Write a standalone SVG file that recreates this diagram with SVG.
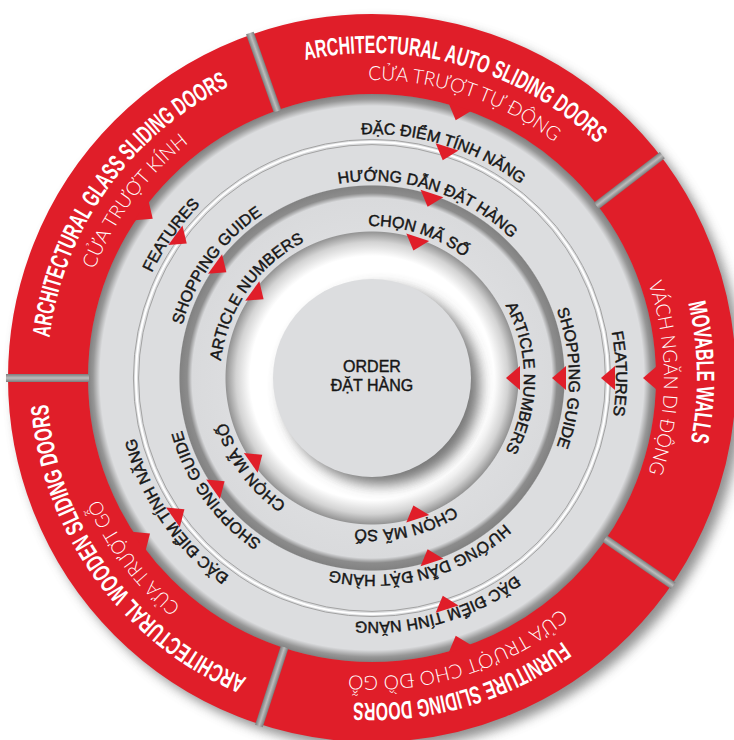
<svg xmlns="http://www.w3.org/2000/svg" xmlns:xlink="http://www.w3.org/1999/xlink" width="734" height="740" viewBox="0 0 734 740">
  <defs>
    <style>
      .title { font-family: "Liberation Sans", Arial, sans-serif; font-weight: bold; font-size: 25px; fill: #ffffff; }
      .sub { font-family: Lato, "Open Sans", "Liberation Sans", sans-serif; font-weight: 300; font-size: 19.5px; fill: #ffffff; }
      .band { font-family: "Liberation Sans", Arial, sans-serif; font-size: 16px; fill: #161616; stroke: #161616; stroke-width: 0.45px; }
      .hub { font-family: "Liberation Sans", Arial, sans-serif; font-size: 16px; fill: #161616; stroke: #161616; stroke-width: 0.4px; text-anchor: middle; }
      .red { fill: #e01e29; }
    </style>

    <!-- concentric grey bands with their soft shading -->
    <radialGradient id="bandShade" gradientUnits="userSpaceOnUse" cx="372" cy="378" r="284">
      <stop offset="0" stop-color="#ffffff"/>
      <stop offset="0.4296" stop-color="#ffffff"/>
      <stop offset="0.4789" stop-color="#d3d3d3"/>
      <stop offset="0.5141" stop-color="#959595"/>
      <stop offset="0.5176" stop-color="#dcdddf"/>
      <stop offset="0.6338" stop-color="#d9dadc"/>
      <stop offset="0.6514" stop-color="#8c8c8c"/>
      <stop offset="0.6761" stop-color="#828282"/>
      <stop offset="0.6800" stop-color="#dcdddf"/>
      <stop offset="0.9578" stop-color="#dcdddf"/>
      <stop offset="0.9824" stop-color="#979797"/>
      <stop offset="1" stop-color="#808080"/>
    </radialGradient>

    <linearGradient id="gapShade" x1="0" y1="0" x2="0" y2="1">
      <stop offset="0" stop-color="#7c7c7c"/>
      <stop offset="0.5" stop-color="#bcbcbc"/>
      <stop offset="1" stop-color="#7c7c7c"/>
    </linearGradient>

    <filter id="blur6" x="-20%" y="-20%" width="140%" height="140%">
      <feGaussianBlur stdDeviation="6"/>
    </filter>
    <filter id="blur7" x="-30%" y="-30%" width="160%" height="160%">
      <feGaussianBlur stdDeviation="7"/>
    </filter>

    <!-- pointer triangle, apex toward the centre when placed on the +x axis -->
    <polygon id="tri" class="red" points="0,-12 -14,0 0,12"/>
    <!-- separator between red segments -->
    <rect id="gapBar" x="655" y="374" width="83" height="8" fill="url(#gapShade)"/>

    <!-- text circles: start at 9 o'clock, run clockwise; 50% lies at 3 o'clock -->
    <path id="r325" d="M 47 378 A 325 325 0 1 1 697 378 A 325 325 0 1 1 47 378"/>
    <path id="r298" d="M 74 378 A 298 298 0 1 1 670 378 A 298 298 0 1 1 74 378"/>
    <path id="r292" d="M 80 378 A 292 292 0 1 1 664 378 A 292 292 0 1 1 80 378"/>
    <path id="r244" d="M 128 378 A 244 244 0 1 1 616 378 A 244 244 0 1 1 128 378"/>
    <path id="r197" d="M 175 378 A 197 197 0 1 1 569 378 A 197 197 0 1 1 175 378"/>
    <path id="r152" d="M 220 378 A 152 152 0 1 1 524 378 A 152 152 0 1 1 220 378"/>
  </defs>

  <rect width="734" height="740" fill="#ffffff"/>

  <!-- drop shadow of the whole wheel -->
  <circle cx="379" cy="385" r="364" fill="#6a6a6a" opacity="0.75" filter="url(#blur6)"/>

  <!-- grey bands -->
  <g id="bands">
    <circle cx="372" cy="378" r="284" fill="url(#bandShade)"/>
    <circle cx="372" cy="378" r="233.4" fill="none" stroke="#a3a3a3" stroke-width="1"/>
    <circle cx="372" cy="378" r="236" fill="none" stroke="#ffffff" stroke-width="2"/>
    <circle cx="372" cy="378" r="238.6" fill="none" stroke="#a3a3a3" stroke-width="1"/>
  </g>

  <!-- red outer ring with its five separators -->
  <g id="outer-ring">
    <circle cx="372" cy="378" r="324" fill="none" stroke="#e01e29" stroke-width="80"/>
    <use href="#gapBar" transform="rotate(180 372 378)"/>
    <use href="#gapBar" transform="rotate(-109.5 372 378)"/>
    <use href="#gapBar" transform="rotate(-37.5 372 378)"/>
    <use href="#gapBar" transform="rotate(34.6 372 378)"/>
    <use href="#gapBar" transform="rotate(108 372 378)"/>
  </g>

  <!-- centre hub -->
  <g id="hub">
    <circle cx="381" cy="386" r="99" fill="#4a4a4a" opacity="0.75" filter="url(#blur7)"/>
    <circle cx="372" cy="378" r="99" fill="#dcdddf"/>
    <text class="hub" x="372" y="372">ORDER</text>
    <text class="hub" x="372" y="391">ĐẶT HÀNG</text>
  </g>

  <!-- pointers -->
  <g id="connectors">
    <use href="#tri" transform="rotate(-144 372 378) translate(657 378)"/>
    <use href="#tri" transform="rotate(-72 372 378) translate(657 378)"/>
    <use href="#tri" transform="rotate(0 372 378) translate(657 378)"/>
    <use href="#tri" transform="rotate(72 372 378) translate(657 378)"/>
    <use href="#tri" transform="rotate(145 372 378) translate(657 378)"/>

    <use href="#tri" transform="rotate(-144 372 378) translate(615 378)"/>
    <use href="#tri" transform="rotate(-72 372 378) translate(615 378)"/>
    <use href="#tri" transform="rotate(0 372 378) translate(615 378)"/>
    <use href="#tri" transform="rotate(72 372 378) translate(615 378)"/>
    <use href="#tri" transform="rotate(145 372 378) translate(615 378)"/>

    <use href="#tri" transform="rotate(-144 372 378) translate(566 378)"/>
    <use href="#tri" transform="rotate(-72 372 378) translate(566 378)"/>
    <use href="#tri" transform="rotate(0 372 378) translate(566 378)"/>
    <use href="#tri" transform="rotate(72 372 378) translate(566 378)"/>
    <use href="#tri" transform="rotate(145 372 378) translate(566 378)"/>

    <use href="#tri" transform="rotate(-144 372 378) translate(520 378)"/>
    <use href="#tri" transform="rotate(-72 372 378) translate(520 378)"/>
    <use href="#tri" transform="rotate(0 372 378) translate(520 378)"/>
    <use href="#tri" transform="rotate(72 372 378) translate(520 378)"/>
    <use href="#tri" transform="rotate(145 372 378) translate(520 378)"/>
  </g>

  <!-- red segment labels -->
  <g id="seg-glass">
    <g transform="rotate(-144.5 372 378)"><text class="title" text-anchor="middle"><textPath href="#r325" startOffset="50%" textLength="322" lengthAdjust="spacingAndGlyphs">ARCHITECTURAL GLASS SLIDING DOORS</textPath></text></g>
    <g transform="rotate(-143.3 372 378)"><text class="sub" text-anchor="middle"><textPath href="#r298" startOffset="50%" textLength="160" lengthAdjust="spacingAndGlyphs">CỬA TRƯỢT KÍNH</textPath></text></g>
  </g>
  <g id="seg-auto">
    <g transform="rotate(-74 372 378)"><text class="title" text-anchor="middle"><textPath href="#r325" startOffset="50%" textLength="316" lengthAdjust="spacingAndGlyphs">ARCHITECTURAL AUTO SLIDING DOORS</textPath></text></g>
    <g transform="rotate(-71.5 372 378)"><text class="sub" text-anchor="middle"><textPath href="#r298" startOffset="50%" textLength="200" lengthAdjust="spacingAndGlyphs">CỬA TRƯỢT TỰ ĐỘNG</textPath></text></g>
  </g>
  <g id="seg-walls">
    <g transform="rotate(-1 372 378)"><text class="title" text-anchor="middle"><textPath href="#r325" startOffset="50%" textLength="140" lengthAdjust="spacingAndGlyphs">MOVABLE WALLS</textPath></text></g>
    <g transform="rotate(0 372 378)"><text class="sub" text-anchor="middle"><textPath href="#r292" startOffset="50%" textLength="193" lengthAdjust="spacingAndGlyphs">VÁCH NGĂN DI ĐỘNG</textPath></text></g>
  </g>
  <g id="seg-furniture">
    <g transform="rotate(73.7 372 378)"><text class="title" text-anchor="middle"><textPath href="#r325" startOffset="50%" textLength="222" lengthAdjust="spacingAndGlyphs">FURNITURE SLIDING DOORS</textPath></text></g>
    <g transform="rotate(72.6 372 378)"><text class="sub" text-anchor="middle"><textPath href="#r298" startOffset="50%" textLength="228" lengthAdjust="spacingAndGlyphs">CỬA TRƯỢT CHO ĐỒ GỖ</textPath></text></g>
  </g>
  <g id="seg-wooden">
    <g transform="rotate(144 372 378)"><text class="title" text-anchor="middle"><textPath href="#r325" startOffset="50%" textLength="356" lengthAdjust="spacingAndGlyphs">ARCHITECTURAL WOODEN SLIDING DOORS</textPath></text></g>
    <g transform="rotate(143 372 378)"><text class="sub" text-anchor="middle"><textPath href="#r298" startOffset="50%" textLength="136" lengthAdjust="spacingAndGlyphs">CỬA TRƯỢT GỖ</textPath></text></g>
  </g>

  <!-- band 1 labels -->
  <g id="band-features">
    <g transform="rotate(-144.6 372 378)"><text class="band" text-anchor="middle"><textPath href="#r244" startOffset="50%">FEATURES</textPath></text></g>
    <g transform="rotate(-72.5 372 378)"><text class="band" text-anchor="middle"><textPath href="#r244" startOffset="50%">ĐẶC ĐIỂM TÍNH NĂNG</textPath></text></g>
    <g transform="rotate(-1 372 378)"><text class="band" text-anchor="middle"><textPath href="#r244" startOffset="50%">FEATURES</textPath></text></g>
    <g transform="rotate(74 372 378)"><text class="band" text-anchor="middle"><textPath href="#r244" startOffset="50%">ĐẶC ĐIỂM TÍNH NĂNG</textPath></text></g>
    <g transform="rotate(145.8 372 378)"><text class="band" text-anchor="middle"><textPath href="#r244" startOffset="50%">ĐẶC ĐIỂM TÍNH NĂNG</textPath></text></g>
  </g>

  <!-- band 2 labels -->
  <g id="band-guide">
    <g transform="rotate(-144.1 372 378)"><text class="band" text-anchor="middle"><textPath href="#r197" startOffset="50%">SHOPPING GUIDE</textPath></text></g>
    <g transform="rotate(-72.4 372 378)"><text class="band" text-anchor="middle"><textPath href="#r197" startOffset="50%">HƯỚNG DẪN ĐẶT HÀNG</textPath></text></g>
    <g transform="rotate(0 372 378)"><text class="band" text-anchor="middle"><textPath href="#r197" startOffset="50%">SHOPPING GUIDE</textPath></text></g>
    <g transform="rotate(75 372 378)"><text class="band" text-anchor="middle"><textPath href="#r197" startOffset="50%">HƯỚNG DẪN ĐẶT HÀNG</textPath></text></g>
    <g transform="rotate(144.3 372 378)"><text class="band" text-anchor="middle"><textPath href="#r197" startOffset="50%">SHOPPING GUIDE</textPath></text></g>
  </g>

  <!-- band 3 labels -->
  <g id="band-article">
    <g transform="rotate(-145 372 378)"><text class="band" text-anchor="middle"><textPath href="#r152" startOffset="50%">ARTICLE NUMBERS</textPath></text></g>
    <g transform="rotate(-72 372 378)"><text class="band" text-anchor="middle"><textPath href="#r152" startOffset="50%">CHỌN MÃ SỐ</textPath></text></g>
    <g transform="rotate(0 372 378)"><text class="band" text-anchor="middle"><textPath href="#r152" startOffset="50%">ARTICLE NUMBERS</textPath></text></g>
    <g transform="rotate(77 372 378)"><text class="band" text-anchor="middle"><textPath href="#r152" startOffset="50%">CHỌN MÃ SỐ</textPath></text></g>
    <g transform="rotate(143.7 372 378)"><text class="band" text-anchor="middle"><textPath href="#r152" startOffset="50%">CHỌN MÃ SỐ</textPath></text></g>
  </g>
</svg>
